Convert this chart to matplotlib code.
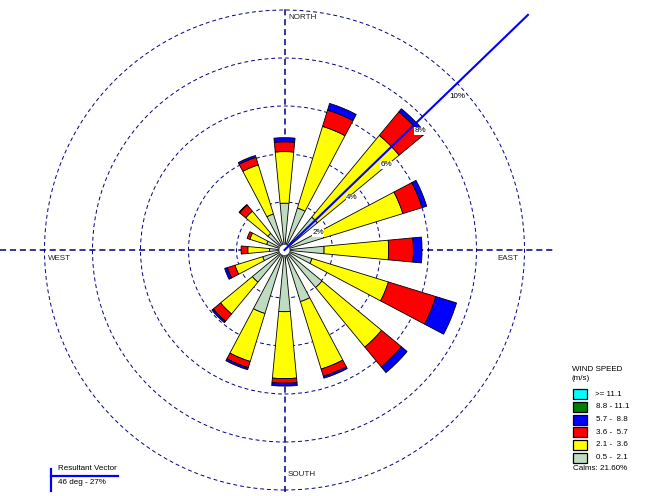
import numpy as np
import matplotlib
matplotlib.use('Agg')
import matplotlib.pyplot as plt
from matplotlib.patches import Wedge, Circle, Rectangle

plt.rcParams['font.family'] = ['Liberation Sans', 'DejaVu Sans']

# wind directions (compass degrees, clockwise from north)
directions = ['N', 'NNE', 'NE', 'ENE', 'E', 'ESE', 'SE', 'SSE',
              'S', 'SSW', 'SW', 'WSW', 'W', 'WNW', 'NW', 'NNW']
dir_deg = [0, 22.5, 45, 67.5, 90, 112.5, 135, 157.5,
           180, 202.5, 225, 247.5, 270, 292.5, 315, 337.5]

# frequency (%) per speed class
spd_05_21 = [1.95, 1.83, 1.78, 1.71, 1.65, 1.20, 2.03, 2.25,
             2.57, 2.77, 1.74, 0.95, 0.63, 0.78, 0.90, 1.57]
spd_21_36 = [2.15, 3.56, 4.42, 3.45, 2.69, 3.33, 3.22, 2.94,
             2.79, 2.09, 1.72, 1.21, 0.90, 0.73, 1.20, 2.14]
spd_36_57 = [0.41, 0.71, 1.27, 0.84, 1.03, 2.07, 1.07, 0.31,
             0.19, 0.27, 0.39, 0.33, 0.28, 0.12, 0.33, 0.33]
spd_57_88 = [0.17, 0.29, 0.17, 0.20, 0.36, 0.90, 0.31, 0.09,
             0.12, 0.09, 0.08, 0.12, 0.00, 0.00, 0.03, 0.08]
spd_88_111 = [0.0] * 16
spd_111 = [0.0] * 16

classes = ['>= 11.1', '8.8 - 11.1', '5.7 -  8.8', '3.6 -  5.7', '2.1 -  3.6', '0.5 -  2.1']
class_colors = ['#00FFFF', '#008000', '#0000FF', '#FF0000', '#FFFF00', '#C0DCC0']
calms = 21.60
resultant_dir = 46
resultant_pct = 27
rings = [2, 4, 6, 8, 10]

# layout: centre of rose in pixels, px per percent
W, H = 647, 496
cx, cy = 284.5, 250
ppp = 24.0


def p2d(px, py):
    return ((px - cx) / ppp, (cy - py) / ppp)


fig = plt.figure(figsize=(W / 100, H / 100), dpi=100)
ax = fig.add_axes([0, 0, 1, 1])
ax.set_xlim(-cx / ppp, (W - cx) / ppp)
ax.set_ylim(-(H - cy) / ppp, cy / ppp)
ax.axis('off')

navy = '#000080'
# rings
for r in rings:
    ax.add_patch(Circle((0, 0), r, fill=False, ec=navy, lw=0.7,
                        ls=(0, (4, 3)), zorder=1))
# cross hairs
ax.plot([-cx / ppp, 11.3], [0, 0], color=navy, lw=1.1, ls=(0, (4, 2.5)), zorder=1)
ax.plot([0, 0], [-10.1, 10.1], color=navy, lw=1.1, ls=(0, (4, 2.5)), zorder=1)

# petals
series = [spd_05_21, spd_21_36, spd_36_57, spd_57_88, spd_88_111, spd_111]
series_colors = class_colors[::-1]
half = 5.4
for i, d in enumerate(dir_deg):
    c = 90 - d
    base = 0.0
    for vals, col in zip(series, series_colors):
        v = vals[i]
        if v <= 0:
            continue
        ax.add_patch(Wedge((0, 0), base + v, c - half, c + half, width=v,
                           fc=col, ec='black', lw=0.6, zorder=3))
        base += v

ax.add_patch(Circle((0, 0), 0.23, fc='white', ec='#404040', lw=0.5, zorder=5))

# resultant vector
L = 14.1
a = np.radians(resultant_dir)
ax.plot([0, L * np.sin(a)], [0, L * np.cos(a)], color='blue', lw=1.5, zorder=6)

# ring labels
ring_lab_px = [(318, 233), (352, 198), (386, 165), (420, 131), (457, 97)]
for r, (px, py) in zip(rings, ring_lab_px):
    x, y = p2d(px, py)
    ax.text(x, y, f'{r}%', fontsize=5.8, ha='center', va='center', zorder=7,
            bbox=dict(fc='white', ec='none', pad=0.4))

# compass labels
fs = 5.8
for lab, (px, py), ha in [('NORTH', (288, 18), 'left'), ('SOUTH', (288, 474), 'left'),
                          ('WEST', (48, 258), 'left'), ('EAST', (497, 258), 'left')]:
    x, y = p2d(px, py)
    ax.text(x, y, lab, fontsize=fs, ha=ha, va='center', color='#202020')

# speed legend
x, y = p2d(572, 369.5)
ax.text(x, y, 'WIND SPEED', fontsize=fs, va='center')
x, y = p2d(572, 378.5)
ax.text(x, y, '(m/s)', fontsize=fs, va='center')
box_top = [389.3, 402.0, 414.7, 427.3, 440.0, 452.7]
for lab, col, t in zip(classes, class_colors, box_top):
    x, y = p2d(572.7, t + 10)
    ax.add_patch(Rectangle((x, y), 14 / ppp, 10 / ppp, fc=col, ec='black', lw=0.9))
    x, y = p2d(595 if lab.startswith('>') else 595.5, t + 5)
    ax.text(x, y, lab, fontsize=fs, va='center')
x, y = p2d(573, 469)
ax.text(x, y, f'Calms: {calms:.2f}%', fontsize=fs, va='center')

# resultant vector legend
x0, y0 = p2d(51, 469)
x1, y1 = p2d(51, 491)
ax.plot([x0, x1], [y0, y1], color='blue', lw=1.6)
x0, y0 = p2d(51, 475.5)
x1, y1 = p2d(118, 475.5)
ax.plot([x0, x1], [y0, y1], color='blue', lw=1.6)
x, y = p2d(58, 469)
ax.text(x, y, 'Resultant Vector', fontsize=fs, va='center')
x, y = p2d(58, 482)
ax.text(x, y, f'{resultant_dir} deg - {resultant_pct}%', fontsize=fs, va='center')

fig.savefig('out.png', dpi=100)
